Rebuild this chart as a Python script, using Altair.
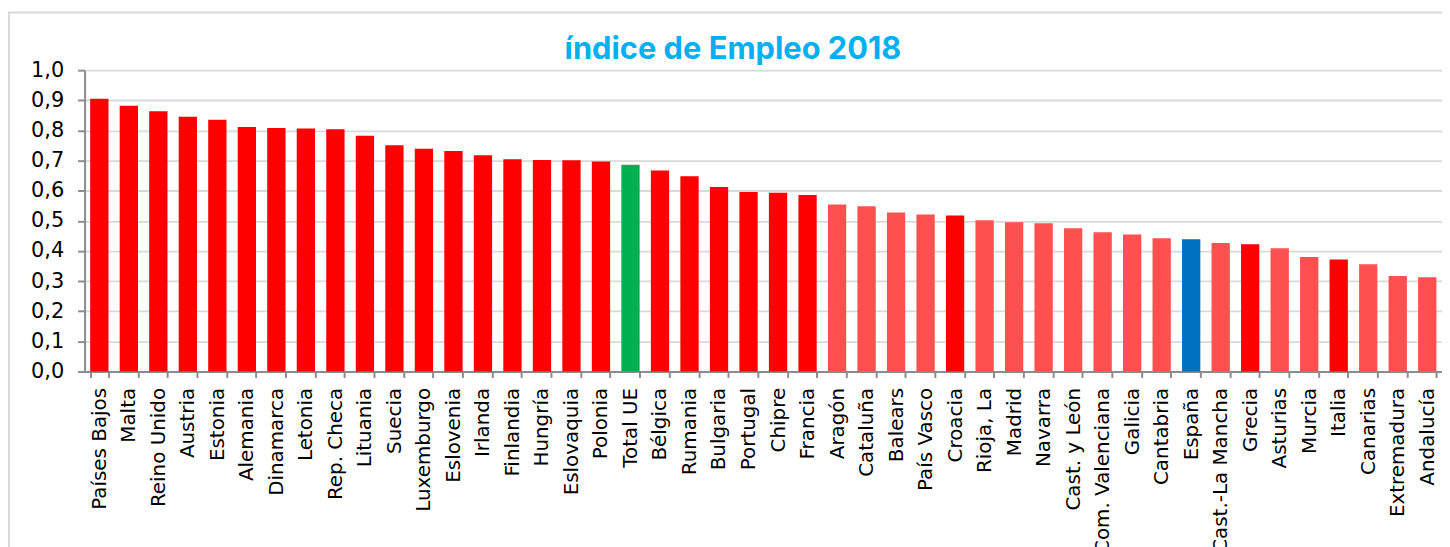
import altair as alt
import pandas as pd

categories = ["Países Bajos", "Malta", "Reino Unido", "Austria", "Estonia", "Alemania",
              "Dinamarca", "Letonia", "Rep. Checa", "Lituania", "Suecia", "Luxemburgo",
              "Eslovenia", "Irlanda", "Finlandia", "Hungría", "Eslovaquia", "Polonia",
              "Total UE", "Bélgica", "Rumania", "Bulgaria", "Portugal", "Chipre", "Francia",
              "Aragón", "Cataluña", "Balears", "País Vasco", "Croacia", "Rioja, La",
              "Madrid", "Navarra", "Cast. y León", "Com. Valenciana", "Galicia", "Cantabria",
              "España", "Cast.-La Mancha", "Grecia", "Asturias", "Murcia", "Italia",
              "Canarias", "Extremadura", "Andalucía"]

values = [0.905, 0.882, 0.864, 0.845, 0.835, 0.811,
          0.808, 0.806, 0.804, 0.782, 0.751, 0.739,
          0.732, 0.718, 0.704, 0.702, 0.701, 0.697,
          0.686, 0.667, 0.648, 0.612, 0.596, 0.593, 0.586,
          0.554, 0.548, 0.528, 0.521, 0.518, 0.502,
          0.495, 0.492, 0.475, 0.462, 0.455, 0.442,
          0.439, 0.426, 0.422, 0.409, 0.380, 0.372,
          0.356, 0.317, 0.313]

groups = ["país", "país", "país", "país", "país", "país",
          "país", "país", "país", "país", "país", "país",
          "país", "país", "país", "país", "país", "país",
          "UE", "país", "país", "país", "país", "país", "país",
          "región", "región", "región", "región", "país", "región",
          "región", "región", "región", "región", "región", "región",
          "España", "región", "país", "región", "región", "país",
          "región", "región", "región"]

group_names = ["país", "región", "UE", "España"]
group_colors = ["#FF0000", "#FF5050", "#00B050", "#0070C0"]

y_ticks = [0.0, 0.1, 0.2, 0.3, 0.4, 0.5, 0.6, 0.7, 0.8, 0.9, 1.0]

title_text = "índice de Empleo 2018"

df = pd.DataFrame({"cat": categories, "val": values, "grp": groups})

W, H = 1365, 303

bars = alt.Chart(df).mark_bar().encode(
    x=alt.X("cat:N", sort=categories, title=None,
            scale=alt.Scale(paddingInner=0.38, paddingOuter=0.19),
            axis=alt.Axis(labelAngle=-90, labelFont="DejaVu Sans", labelFontSize=20,
                          labelColor="#000000", labelPadding=10, tickBand="extent",
                          tickSize=6, tickColor="#8c8c8c", tickWidth=2,
                          domainColor="#8c8c8c", domainWidth=2, grid=False,
                          labelOverlap=False)),
    y=alt.Y("val:Q", title=None,
            scale=alt.Scale(domain=[0, 1], nice=False),
            axis=alt.Axis(values=y_ticks, labelExpr="replace(format(datum.value, '.1f'), '.', ',')",
                          labelFont="DejaVu Sans", labelFontSize=21, labelColor="#000000",
                          labelPadding=14, tickSize=7, tickColor="#8c8c8c", tickWidth=2,
                          domainColor="#8c8c8c", domainWidth=2,
                          gridColor="#d9d9d9", gridWidth=1.8)),
    color=alt.Color("grp:N", scale=alt.Scale(domain=group_names, range=group_colors), legend=None),
)

frame = alt.Chart(alt.Data(values=[{}])).mark_rect(
    fill=None, stroke="#d9d9d9", strokeWidth=2, clip=False
).encode(
    x=alt.value(-76), x2=alt.value(W + 20),
    y=alt.value(-58), y2=alt.value(H + 300),
)

title = alt.Chart(alt.Data(values=[{"t": title_text}])).mark_text(
    font="Inter", fontSize=31, fontWeight="bold", color="#00B0F0",
    align="center", baseline="alphabetic", clip=False
).encode(
    text="t:N", x=alt.value(652), y=alt.value(-11),
)

chart = alt.layer(frame, bars, title).properties(
    width=W, height=H,
    autosize=alt.AutoSizeParams(type="none"),
    padding={"left": 77, "top": 61, "right": 0, "bottom": 175},
).configure_view(stroke=None).configure(background="white")

chart.save("out.html", embed_options={"renderer": "svg", "actions": False})
